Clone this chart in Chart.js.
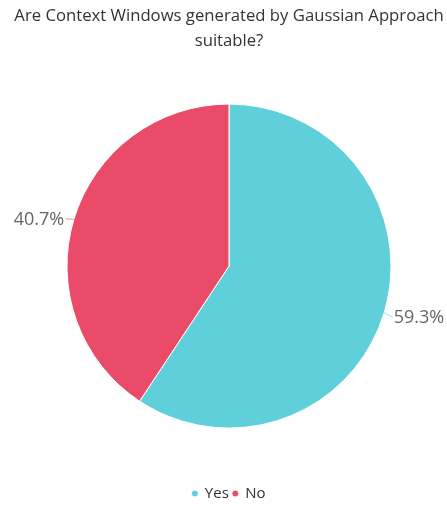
<!DOCTYPE html>
<html>
<head>
<meta charset="utf-8">
<script src="https://cdn.jsdelivr.net/npm/chart.js@4.4.0/dist/chart.umd.min.js"></script>
<style>
  html, body { margin: 0; padding: 0; background: #fff; }
  #wrap { width: 447px; height: 506px; }
</style>
</head>
<body>
<div id="wrap"><canvas id="c" width="447" height="506"></canvas></div>
<script>
const categories = ['Yes', 'No'];
const shares = [59.3, 40.7];
const sliceColors = ['#5FD0D9', '#EA4B68'];
const titleLines = ['Are Context Windows generated by Gaussian Approach', 'suitable?'];

// Percent labels outside each slice, joined to the rim by a short leader line
const outsideLabels = {
  id: 'outsideLabels',
  afterDatasetsDraw(chart) {
    const ctx = chart.ctx;
    const meta = chart.getDatasetMeta(0);
    const values = chart.data.datasets[0].data;
    meta.data.forEach((arc, i) => {
      const p = arc.getProps(['x', 'y', 'startAngle', 'endAngle', 'outerRadius'], true);
      const mid = (p.startAngle + p.endAngle) / 2;
      const c = Math.cos(mid), s = Math.sin(mid);
      const x1 = p.x + c * p.outerRadius, y1 = p.y + s * p.outerRadius;
      const x2 = p.x + c * (p.outerRadius + 9), y2 = p.y + s * (p.outerRadius + 9) + 2;
      ctx.save();
      ctx.strokeStyle = chart.data.datasets[0].backgroundColor[i];
      ctx.globalAlpha = 0.6;
      ctx.lineWidth = 1;
      ctx.beginPath();
      ctx.moveTo(x1, y1);
      ctx.lineTo(x2, y2);
      ctx.stroke();
      ctx.globalAlpha = 1;
      ctx.fillStyle = '#666';
      ctx.font = '18px "Open Sans", Lato, sans-serif';
      ctx.textBaseline = 'middle';
      ctx.textAlign = c >= 0 ? 'left' : 'right';
      ctx.fillText(values[i].toFixed(1) + '%', x2 + (c >= 0 ? 1 : -1), y2 + 1);
      ctx.restore();
    });
  }
};

new Chart(document.getElementById('c'), {
  type: 'pie',
  data: {
    labels: categories,
    datasets: [{
      data: shares,
      backgroundColor: sliceColors,
      borderColor: '#ffffff',
      borderWidth: 1,
      radius: 162
    }]
  },
  options: {
    responsive: false,
    animation: false,
    events: [],
    layout: { padding: { top: 0, bottom: -5, left: 11, right: 0 } },
    plugins: {
      title: {
        display: true,
        text: titleLines,
        color: '#333',
        font: { family: '"Open Sans", Lato, sans-serif', size: 16.7, weight: 'normal', lineHeight: 1.5 },
        padding: { top: 4, bottom: 50 }
      },
      legend: {
        position: 'bottom',
        title: {
          display: true,
          text: '',
          font: { size: 10, lineHeight: 1 },
          padding: { top: 44, bottom: 0 }
        },
        labels: {
          usePointStyle: true,
          pointStyle: 'circle',
          boxWidth: 5,
          boxHeight: 5,
          padding: 4,
          color: '#333',
          font: { family: '"Open Sans", Lato, sans-serif', size: 15 }
        }
      },
      tooltip: { enabled: false }
    }
  },
  plugins: [outsideLabels]
});
</script>
</body>
</html>
